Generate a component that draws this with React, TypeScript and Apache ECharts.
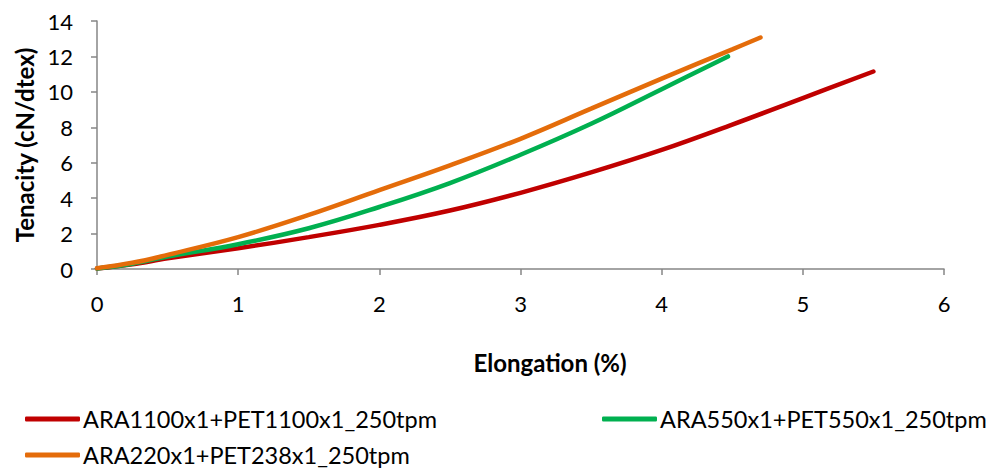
import React, { useEffect, useRef } from "react";
import * as echarts from "echarts";

const seriesNames = [
  "ARA1100x1+PET1100x1_250tpm",
  "ARA550x1+PET550x1_250tpm",
  "ARA220x1+PET238x1_250tpm",
];
const redX = [0, 0.25, 0.5, 1, 1.5, 2, 2.5, 3, 3.5, 4, 4.5, 5, 5.5];
const redY = [0.03, 0.27, 0.6, 1.17, 1.8, 2.49, 3.3, 4.3, 5.45, 6.72, 8.15, 9.65, 11.15];
const greenX = [0, 0.25, 0.5, 1, 1.5, 2, 2.5, 3, 3.5, 4, 4.47];
const greenY = [0.03, 0.3, 0.7, 1.4, 2.3, 3.5, 4.85, 6.45, 8.2, 10.15, 12.0];
const orangeX = [0, 0.25, 0.5, 1, 1.5, 2, 2.5, 3, 3.5, 4, 4.5, 4.7];
const orangeY = [0.05, 0.35, 0.8, 1.8, 3.05, 4.45, 5.85, 7.35, 9.05, 10.75, 12.4, 13.07];
const colors = ["#C00000", "#00B050", "#E46C0A"];
const xTitle = "Elongation (%)";
const yTitle = "Tenacity (cN/dtex)";

const FONT = "Lato";

const zip = (xs: number[], ys: number[]) => xs.map((x, i) => [x, ys[i]]);

export default function App() {
  const ref = useRef<HTMLDivElement>(null);
  useEffect(() => {
    if (!ref.current) return;
    const chart = echarts.init(ref.current, undefined, { renderer: "svg" });
    const datasets = [zip(redX, redY), zip(greenX, greenY), zip(orangeX, orangeY)];
    const legendPos = [
      { left: 25, top: 407 },
      { left: 602, top: 407 },
      { left: 25, top: 443 },
    ];
    chart.setOption({
      animation: false,
      backgroundColor: "#ffffff",
      textStyle: { fontFamily: FONT },
      grid: { left: 97, right: 48, top: 21, bottom: 199, containLabel: false },
      legend: seriesNames.map((n, i) => ({
        data: [n],
        left: legendPos[i].left,
        top: legendPos[i].top,
        orient: "horizontal",
        icon: "roundRect",
        itemWidth: 55,
        itemHeight: 5,
        padding: 0,
        selectedMode: false,
        textStyle: { fontFamily: FONT, fontSize: 23.5, color: "#000000", padding: [0, 0, 0, -2] },
      })),
      graphic: [
        {
          type: "text",
          x: 550,
          y: 362,
          style: {
            text: xTitle,
            fontFamily: FONT,
            fontSize: 24,
            fontWeight: "bold",
            fill: "#000000",
            textAlign: "center",
            textVerticalAlign: "middle",
          },
        },
      ],
      xAxis: {
        type: "value",
        min: 0,
        max: 6,
        interval: 1,
        axisLine: { show: true, lineStyle: { color: "#868686", width: 1.5 } },
        axisTick: { show: true, length: 6, lineStyle: { color: "#868686", width: 1.5 } },
        splitLine: { show: false },
        axisLabel: { fontFamily: FONT, fontSize: 22, color: "#000000", margin: 23 },
      },
      yAxis: {
        type: "value",
        min: 0,
        max: 14,
        interval: 2,
        name: yTitle,
        nameLocation: "middle",
        nameGap: 60,
        nameTextStyle: { fontFamily: FONT, fontSize: 24, fontWeight: "bold", color: "#000000" },
        axisLine: { show: true, lineStyle: { color: "#868686", width: 1.5 } },
        axisTick: { show: true, length: 6, lineStyle: { color: "#868686", width: 1.5 } },
        splitLine: { show: false },
        axisLabel: { fontFamily: FONT, fontSize: 22, color: "#000000", margin: 24 },
      },
      series: seriesNames.map((n, i) => ({
        name: n,
        type: "line",
        data: datasets[i],
        smooth: 0.4,
        showSymbol: false,
        symbol: "none",
        lineStyle: { color: colors[i], width: 4.5, cap: "round" },
        itemStyle: { color: colors[i] },
      })),
    });
    return () => chart.dispose();
  }, []);
  return <div ref={ref} style={{ width: 992, height: 468, position: "absolute", left: 0, top: 0 }} />;
}
